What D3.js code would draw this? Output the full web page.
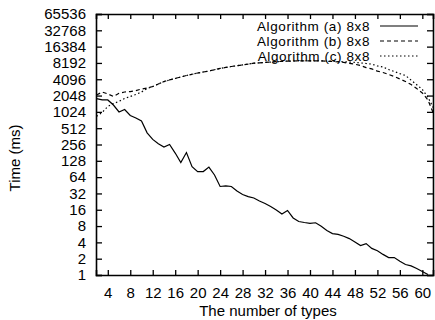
<!DOCTYPE html>
<html lang="en">
<head>
    <title>Time vs number of types</title>
    <script src="https://d3js.org/d3.v7.min.js"></script>
    <style>
        body {
            margin: 0;
            background: white;
            font-family: 'Liberation Sans', Arial, sans-serif;
        }
        .axis text {
            font-size: 15px;
            fill: #000;
        }
        .axis path, .axis line {
            stroke: #000;
        }
    </style>
</head>
<body>
    <div id="chart"></div>
    <script>
        // number of types (x)
        const types = d3.range(2, 63);

        // Algorithm (a) 8x8, n = 2..61
        const algoA = [1800, 1700, 1700, 1370, 1020, 1130, 880, 790, 695, 420,
            318, 264, 230, 256, 178, 119, 182, 100, 81, 81,
            98, 70, 43, 44, 43, 35.5, 30.6, 27.9, 26.4, 23.2,
            20.9, 18.4, 15.9, 13.4, 15.5, 11.3, 9.7, 9.3, 9.0, 9.2,
            7.9, 6.6, 5.8, 5.6, 5.2, 4.7, 4.06, 3.5, 3.8, 3.1,
            2.8, 2.4, 2.1, 2.1, 1.8, 1.56, 1.47, 1.32, 1.16, 1.02];

        // Algorithm (b) 8x8, n = 2..62
        const algoB = [2100, 2380, 2200, 1970, 2260, 2380, 2430, 2530, 2700, 2820,
            3010, 3350, 3720, 3980, 4240, 4520, 4800, 5060, 5340, 5580,
            5820, 6150, 6480, 6760, 7050, 7290, 7530, 7810, 8100, 8230,
            8360, 8510, 8660, 8750, 8840, 8890, 8930, 8930, 8930, 8930,
            8930, 8820, 8700, 8540, 8380, 8050, 7750, 7370, 6700, 6360,
            5800, 5450, 5010, 4610, 4150, 3720, 3280, 2760, 2290, 1700, 950];

        // Algorithm (c) 8x8, n = 2..62
        const algoC = [850, 1000, 1290, 1460, 1600, 1810, 1970, 2150, 2380, 2750,
            3000, 3340, 3710, 3970, 4230, 4510, 4790, 5050, 5330, 5570,
            5810, 6140, 6470, 6750, 7040, 7280, 7520, 7800, 8090, 8220,
            8350, 8500, 8650, 8740, 8830, 8880, 8920, 8930, 8930, 8930,
            8930, 8880, 8800, 8700, 8600, 8500, 8400, 8200, 8000, 7800,
            7200, 6900, 6200, 5700, 5200, 4800, 3950, 3250, 2650, 1900, 1200];

        const xTicks = d3.range(4, 61, 4);
        const yTicks = d3.range(0, 17).map(p => Math.pow(2, p));

        const seriesNames = ["Algorithm (a) 8x8", "Algorithm (b) 8x8", "Algorithm (c) 8x8"];
        const seriesDash = [null, "4,3", "1.5,2.5"];

        const W = 435, H = 320;
        const margin = {top: 14, right: 2, bottom: 45, left: 96};
        const width = W - margin.left - margin.right;
        const height = H - margin.top - margin.bottom;

        const svg = d3.select("#chart").append("svg")
            .attr("width", W)
            .attr("height", H);

        const g = svg.append("g")
            .attr("transform", `translate(${margin.left},${margin.top})`);

        const x = d3.scaleLinear().domain([1.9, 61.9]).range([0, width]);
        const y = d3.scaleLog().base(2).domain([1, 65536]).range([height, 0]);

        g.append("clipPath").attr("id", "clip")
            .append("rect").attr("width", width).attr("height", height);

        // axes, ticks pointing inwards
        const axBottom = g.append("g").attr("class", "axis")
            .attr("transform", `translate(0,${height})`)
            .call(d3.axisBottom(x).tickValues(xTicks).tickSize(-5).tickPadding(12).tickFormat(d3.format("d")));
        const axTop = g.append("g").attr("class", "axis")
            .call(d3.axisTop(x).tickValues(xTicks).tickSize(-5).tickFormat(""));
        const axLeft = g.append("g").attr("class", "axis")
            .call(d3.axisLeft(y).tickValues(yTicks).tickSize(-6).tickPadding(10).tickFormat(d3.format("d")));
        const axRight = g.append("g").attr("class", "axis")
            .attr("transform", `translate(${width},0)`)
            .call(d3.axisRight(y).tickValues(yTicks).tickSize(-6).tickFormat(""));

        [axBottom, axTop, axLeft, axRight].forEach(a => {
            a.select(".domain").attr("stroke-width", 1.6);
            a.selectAll(".tick line").attr("stroke-width", 1.3);
        });

        const line = d3.line()
            .x((d, i) => x(types[i]))
            .y(d => y(d));

        const plot = g.append("g").attr("clip-path", "url(#clip)");
        [algoA, algoB, algoC].forEach((s, k) => {
            plot.append("path")
                .datum(s)
                .attr("fill", "none")
                .attr("stroke", "#000")
                .attr("stroke-width", 1.2)
                .attr("stroke-dasharray", seriesDash[k])
                .attr("d", line);
        });

        // legend
        const legend = g.append("g").attr("transform", `translate(${274 - margin.left},${26 - margin.top})`);
        seriesNames.forEach((name, k) => {
            const row = legend.append("g").attr("transform", `translate(0,${k * 15})`);
            row.append("text")
                .attr("x", 370 - 274)
                .attr("y", 0)
                .attr("dy", "0.35em")
                .attr("text-anchor", "end")
                .style("font-size", "13.5px")
                .style("letter-spacing", "0.6px")
                .text(name);
            row.append("line")
                .attr("x1", 380 - 274)
                .attr("x2", 418 - 274)
                .attr("stroke", "#000")
                .attr("stroke-width", 1.2)
                .attr("stroke-dasharray", seriesDash[k]);
        });

        // axis titles
        g.append("text")
            .attr("transform", `translate(${15 - margin.left},${158 - margin.top}) rotate(-90)`)
            .attr("text-anchor", "middle")
            .attr("dy", "0.35em")
            .style("font-size", "15px")
            .text("Time (ms)");

        g.append("text")
            .attr("x", 268 - margin.left)
            .attr("y", 316 - margin.top)
            .attr("text-anchor", "middle")
            .style("font-size", "15px")
            .text("The number of types");
    </script>
</body>
</html>
